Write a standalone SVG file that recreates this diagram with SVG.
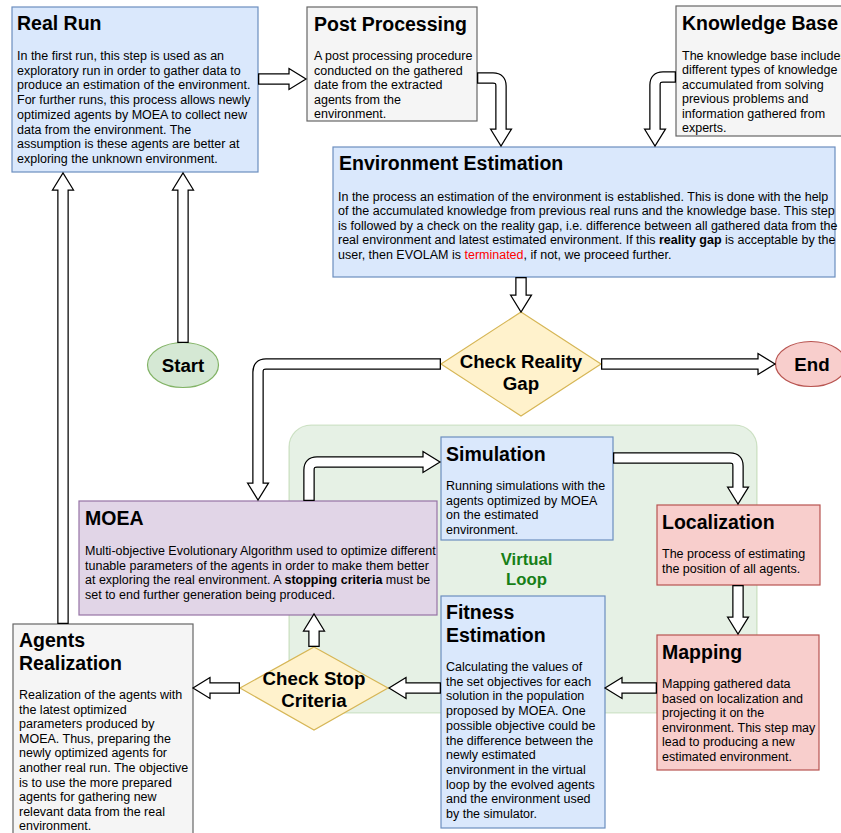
<svg xmlns="http://www.w3.org/2000/svg" width="841" height="833" viewBox="0 0 841 833">
<style>
text{font-family:"Liberation Sans",Arial,Helvetica,sans-serif;fill:#000}
.t{font-weight:bold;font-size:19.5px}
.b{font-size:12.5px}
.d{font-weight:bold;font-size:18.7px;text-anchor:middle}
.blue{fill:#dae8fc;stroke:#6c8ebf;stroke-width:1.2}
.grey{fill:#f5f5f5;stroke:#666666;stroke-width:1.2}
.red{fill:#f8cecc;stroke:#b85450;stroke-width:1.2}
.purple{fill:#e1d5e7;stroke:#9673a6;stroke-width:1.2}
.yellow{fill:#fff2cc;stroke:#d6b656;stroke-width:1.2}
.green{fill:#d5e8d4;stroke:#82b366;stroke-width:1.2}
.ao{fill:none;stroke:#000;stroke-width:11.5}
.ai{fill:none;stroke:#fff;stroke-width:9}
.ah{fill:#fff;stroke:#000;stroke-width:1.25;stroke-linejoin:miter}
</style>

<g id="virtual-loop">
<rect x="289" y="425" width="468" height="288" rx="22" ry="22" fill="#d5e8d4" fill-opacity="0.6" stroke="#82b366" stroke-opacity="0.35" stroke-width="1.2"/>
<text x="526.5" y="565" font-weight="bold" font-size="16.7" text-anchor="middle" style="fill:#177f17">Virtual</text>
<text x="526.5" y="585" font-weight="bold" font-size="16.7" text-anchor="middle" style="fill:#177f17">Loop</text>
</g>

<g id="real-run">
<rect class="blue" x="12" y="7" width="246" height="165"/>
<text class="t" x="17" y="30">Real Run</text>
<text class="b" x="17" y="60">In the first run, this step is used as an</text>
<text class="b" x="17" y="74.7">exploratory run in order to gather data to</text>
<text class="b" x="17" y="89.4">produce an estimation of the environment.</text>
<text class="b" x="17" y="104.1">For further runs, this process allows newly</text>
<text class="b" x="17" y="118.8">optimized agents by MOEA to collect new</text>
<text class="b" x="17" y="133.5">data from the environment. The</text>
<text class="b" x="17" y="148.2">assumption is these agents are better at</text>
<text class="b" x="17" y="162.9">exploring the unknown environment.</text>
</g>

<g id="post-processing">
<rect class="grey" x="307" y="7" width="170" height="114"/>
<text class="t" x="314" y="31">Post Processing</text>
<text class="b" x="314" y="60">A post processing procedure</text>
<text class="b" x="314" y="74.5">conducted on the gathered</text>
<text class="b" x="314" y="89">date from the extracted</text>
<text class="b" x="314" y="103.5">agents from the</text>
<text class="b" x="314" y="118">environment.</text>
</g>

<g id="knowledge-base">
<rect class="grey" x="676" y="6" width="175" height="130"/>
<text class="t" x="682" y="29.5">Knowledge Base</text>
<text class="b" x="682" y="59.5">The knowledge base includes</text>
<text class="b" x="682" y="74">different types of knowledge</text>
<text class="b" x="682" y="88.5">accumulated from solving</text>
<text class="b" x="682" y="103">previous problems and</text>
<text class="b" x="682" y="117.5">information gathered from</text>
<text class="b" x="682" y="132">experts.</text>
</g>

<g id="environment-estimation">
<rect class="blue" x="333" y="147" width="502" height="130"/>
<text class="t" x="339" y="170">Environment Estimation</text>
<text class="b" x="338" y="200.5">In the process an estimation of the environment is established. This is done with the help</text>
<text class="b" x="338" y="215.1">of the accumulated knowledge from previous real runs and the knowledge base. This step</text>
<text class="b" x="338" y="229.7">is followed by a check on the reality gap, i.e. difference between all gathered data from the</text>
<text class="b" x="338" y="244.3">real environment and latest estimated environment. If this <tspan font-weight="bold">reality gap</tspan> is acceptable by the</text>
<text class="b" x="338" y="258.9">user, then EVOLAM is <tspan style="fill:#ff0000">terminated</tspan>, if not, we proceed further.</text>
</g>

<g id="check-reality-gap">
<polygon class="yellow" points="521,312 601,364 521,416 441,364"/>
<text class="d" x="521" y="368">Check Reality</text>
<text class="d" x="521" y="389.5">Gap</text>
</g>

<g id="start">
<ellipse class="green" cx="183" cy="365" rx="35.5" ry="22.5"/>
<text class="d" x="183" y="371.5">Start</text>
</g>

<g id="end">
<ellipse class="red" cx="811" cy="364" rx="35.5" ry="22.5"/>
<text class="d" x="812" y="370.5">End</text>
</g>

<g id="simulation">
<rect class="blue" x="441" y="437" width="172" height="103"/>
<text class="t" x="446" y="461">Simulation</text>
<text class="b" x="446" y="490">Running simulations with the</text>
<text class="b" x="446" y="504.6">agents optimized by MOEA</text>
<text class="b" x="446" y="519.2">on the estimated</text>
<text class="b" x="446" y="533.8">environment.</text>
</g>

<g id="moea">
<rect class="purple" x="79" y="501" width="358" height="114"/>
<text class="t" x="85" y="525">MOEA</text>
<text class="b" x="85" y="555">Multi-objective Evolutionary Algorithm used to optimize different</text>
<text class="b" x="85" y="569.6">tunable parameters of the agents in order to make them better</text>
<text class="b" x="85" y="584.2">at exploring the real environment. A <tspan font-weight="bold">stopping criteria</tspan> must be</text>
<text class="b" x="85" y="598.8">set to end further generation being produced.</text>
</g>

<g id="localization">
<rect class="red" x="657" y="505" width="163" height="80"/>
<text class="t" x="662" y="529">Localization</text>
<text class="b" x="662" y="558">The process of estimating</text>
<text class="b" x="662" y="572.6">the position of all agents.</text>
</g>

<g id="mapping">
<rect class="red" x="657" y="635" width="162" height="135"/>
<text class="t" x="662" y="659">Mapping</text>
<text class="b" x="662" y="688">Mapping gathered data</text>
<text class="b" x="662" y="702.6">based on localization and</text>
<text class="b" x="662" y="717.2">projecting it on the</text>
<text class="b" x="662" y="731.8">environment. This step may</text>
<text class="b" x="662" y="746.4">lead to producing a new</text>
<text class="b" x="662" y="761">estimated environment.</text>
</g>

<g id="fitness-estimation">
<rect class="blue" x="441" y="596" width="164" height="232"/>
<text class="t" x="446" y="619">Fitness</text>
<text class="t" x="446" y="642">Estimation</text>
<text class="b" x="446" y="671">Calculating the values of</text>
<text class="b" x="446" y="685.7">the set objectives for each</text>
<text class="b" x="446" y="700.4">solution in the population</text>
<text class="b" x="446" y="715.1">proposed by MOEA. One</text>
<text class="b" x="446" y="729.8">possible objective could be</text>
<text class="b" x="446" y="744.5">the difference between the</text>
<text class="b" x="446" y="759.2">newly estimated</text>
<text class="b" x="446" y="773.9">environment in the virtual</text>
<text class="b" x="446" y="788.6">loop by the evolved agents</text>
<text class="b" x="446" y="803.3">and the environment used</text>
<text class="b" x="446" y="818">by the simulator.</text>
</g>

<g id="agents-realization">
<rect class="grey" x="13" y="624" width="180" height="220"/>
<text class="t" x="19" y="647">Agents</text>
<text class="t" x="19" y="670">Realization</text>
<text class="b" x="19" y="699">Realization of the agents with</text>
<text class="b" x="19" y="713.6">the latest optimized</text>
<text class="b" x="19" y="728.2">parameters produced by</text>
<text class="b" x="19" y="742.8">MOEA. Thus, preparing the</text>
<text class="b" x="19" y="757.4">newly optimized agents for</text>
<text class="b" x="19" y="772">another real run. The objective</text>
<text class="b" x="19" y="786.6">is to use the more prepared</text>
<text class="b" x="19" y="801.2">agents for gathering new</text>
<text class="b" x="19" y="815.8">relevant data from the real</text>
<text class="b" x="19" y="830.4">environment.</text>
</g>

<g id="check-stop-criteria">
<polygon class="yellow" points="314,647 388,688 314,730 240,688"/>
<text class="d" x="314" y="685">Check Stop</text>
<text class="d" x="314" y="707">Criteria</text>
</g>

<g id="connectors">
<!-- Real Run -> Post Processing -->
<path class="ao" d="M258,79 H290"/>
<path class="ah" d="M289,68.5 L306,79 L289,89.5 Z"/>
<path class="ai" d="M259.3,79 H290.5"/>
<!-- Post Processing -> Environment Estimation -->
<path class="ao" d="M477,78 H493 Q501,78 501,86 V130"/>
<path class="ah" d="M490.5,129 L501,146 L511.5,129 Z"/>
<path class="ai" d="M478.3,78 H493 Q501,78 501,86 V130.5"/>
<!-- Knowledge Base -> Environment Estimation -->
<path class="ao" d="M676,77 H663 Q655,77 655,85 V130"/>
<path class="ah" d="M644.5,129 L655,146 L665.5,129 Z"/>
<path class="ai" d="M674.7,77 H663 Q655,77 655,85 V130.5"/>
<!-- Start -> Real Run -->
<path class="ao" d="M183,343 V189"/>
<path class="ah" d="M172.5,190 L183,173 L193.5,190 Z"/>
<path class="ai" d="M183,341.7 V188.5"/>
<!-- Agents Realization -> Real Run -->
<path class="ao" d="M63,624 V189"/>
<path class="ah" d="M52.5,190 L63,173 L73.5,190 Z"/>
<path class="ai" d="M63,622.7 V188.5"/>
<!-- Environment Estimation -> Check Reality Gap -->
<path class="ao" d="M521,277 V296"/>
<path class="ah" d="M510.5,295 L521,312 L531.5,295 Z"/>
<path class="ai" d="M521,278.3 V296.5"/>
<!-- Check Reality Gap -> End -->
<path class="ao" d="M601,364 H759"/>
<path class="ah" d="M758,353.5 L775,364 L758,374.5 Z"/>
<path class="ai" d="M602.3,364 H759.5"/>
<!-- Check Reality Gap -> MOEA -->
<path class="ao" d="M441,364 H266 Q258,364 258,372 V484"/>
<path class="ah" d="M247.5,483 L258,500 L268.5,483 Z"/>
<path class="ai" d="M439.7,364 H266 Q258,364 258,372 V484.5"/>
<!-- MOEA -> Simulation -->
<path class="ao" d="M309,501 V470 Q309,462 317,462 H424"/>
<path class="ah" d="M423,451.5 L440,462 L423,472.5 Z"/>
<path class="ai" d="M309,499.7 V470 Q309,462 317,462 H424.5"/>
<!-- Simulation -> Localization -->
<path class="ao" d="M613,458 H730 Q738,458 738,466 V488"/>
<path class="ah" d="M727.5,487 L738,504 L748.5,487 Z"/>
<path class="ai" d="M614.3,458 H730 Q738,458 738,466 V488.5"/>
<!-- Localization -> Mapping -->
<path class="ao" d="M738,585 V618"/>
<path class="ah" d="M727.5,617 L738,634 L748.5,617 Z"/>
<path class="ai" d="M738,586.3 V618.5"/>
<!-- Mapping -> Fitness Estimation -->
<path class="ao" d="M657,688 H621"/>
<path class="ah" d="M622,677.5 L605,688 L622,698.5 Z"/>
<path class="ai" d="M655.7,688 H620.5"/>
<!-- Fitness Estimation -> Check Stop Criteria -->
<path class="ao" d="M441,688 H405"/>
<path class="ah" d="M406,677.5 L389,688 L406,698.5 Z"/>
<path class="ai" d="M439.7,688 H404.5"/>
<!-- Check Stop Criteria -> MOEA -->
<path class="ao" d="M314,647 V630"/>
<path class="ah" d="M303.5,631 L314,614 L324.5,631 Z"/>
<path class="ai" d="M314,645.7 V629.5"/>
<!-- Check Stop Criteria -> Agents Realization -->
<path class="ao" d="M240,688 H209"/>
<path class="ah" d="M210,677.5 L193,688 L210,698.5 Z"/>
<path class="ai" d="M238.7,688 H208.5"/>
</g>
</svg>
